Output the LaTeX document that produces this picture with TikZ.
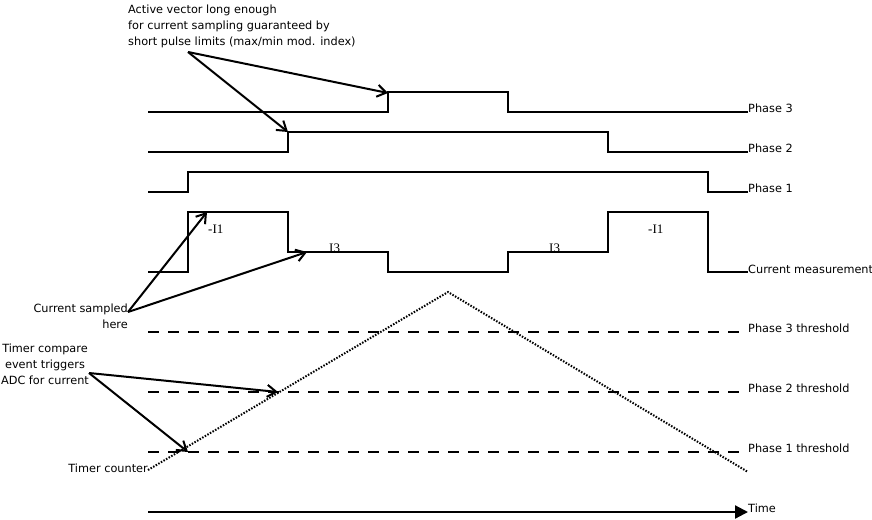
\documentclass[tikz,border=0pt]{standalone}
\usepackage{fontspec}
\setmainfont{DejaVu Sans}
\newfontfamily\curfont{Liberation Serif}
\usetikzlibrary{arrows.meta,positioning,calc}

\begin{document}
\begin{tikzpicture}[x=1pt,y=-1pt,
  lbl/.style={font=\fontsize{11.3}{16}\selectfont, inner sep=0pt},
  cur/.style={font=\curfont\fontsize{13}{14}\selectfont, inner sep=0pt, anchor=base west},
  wave/.style={line width=2.2pt},
  thr/.style={line width=2.2pt, dash pattern=on 11pt off 9pt},
  ptr/.style={line width=2pt, -{Straight Barb[length=9pt,width=12pt,line width=2pt]}}]
\useasboundingbox (0,0) rectangle (872,519);

% phase outputs
\draw[wave] (148,112) -- (388,112) -- (388,92) -- (508,92) -- (508,112) -- (748,112);
\draw[wave] (148,152) -- (288,152) -- (288,132) -- (608,132) -- (608,152) -- (748,152);
\draw[wave] (148,192) -- (188,192) -- (188,172) -- (708,172) -- (708,192) -- (748,192);
\draw[wave] (148,272) -- (188,272) -- (188,212) -- (288,212) -- (288,252) -- (388,252)
  -- (388,272) -- (508,272) -- (508,252) -- (608,252) -- (608,212) -- (708,212)
  -- (708,272) -- (748,272);

% thresholds, counter and time
\draw[thr] (148,332) -- (740,332);
\draw[thr] (148,392) -- (740,392);
\draw[thr] (148,452) -- (740,452);
\coordinate (cntStart) at (148,470);
\coordinate (cntPeak) at (448,292);
\coordinate (cntEnd) at (748,472);
\draw[line width=2pt, dash pattern=on 1.5pt off 1.5pt] (cntStart) -- (cntPeak) -- (cntEnd);
\coordinate (t0) at (148,512);
\coordinate (t1) at (748,512);
\draw[line width=2.2pt, -{Triangle[length=13pt,width=13pt]}] (t0) -- (t1);

% right hand labels
\node[lbl, anchor=base west] (p3lbl) at (748,112) {Phase 3};
\node[lbl, anchor=base west] (p2lbl) at (748,152) {Phase 2};
\node[lbl, anchor=base west] (p1lbl) at (748,192) {Phase 1};
\node[lbl, anchor=base west] (curlbl) at (748,273) {Current measurement};
\node[lbl, anchor=base west] (th3lbl) at (748,332) {Phase 3 threshold};
\node[lbl, anchor=base west] (th2lbl) at (748,392) {Phase 2 threshold};
\node[lbl, anchor=base west] (th1lbl) at (748,452) {Phase 1 threshold};
\node[lbl, anchor=base west] (timelbl) at (748,512) {Time};

% current values
\node[cur] (i1a) at (208,233) {-I1};
\node[cur] (i3a) at (329,252) {I3};
\node[cur] (i3b) at (549,252) {I3};
\node[cur] (i1b) at (648,233) {-I1};

% notes
\node[lbl, anchor=north west, align=left] (activetxt) at (128,4.5)
  {Active vector long enough\\for current sampling guaranteed by\\short pulse limits (max/min mod. index)};
\node[lbl, anchor=north east, align=right] (sampledtxt) at (128,303.5) {Current sampled\\here};
\node[lbl, anchor=north, align=center] (comparetxt) at (45,343.5) {Timer compare\\event triggers\\ADC for current};
\node[lbl, anchor=base east] (countertxt) at (148,472) {Timer counter};

\coordinate (activeFrom) at (188,52);
\coordinate (p3rise) at (388,93);
\coordinate (p2rise) at (288,132);
\coordinate (sampledFrom) at (128,312);
\coordinate (i1pt) at (207,212);
\coordinate (i3pt) at (307,252);
\coordinate (compareFrom) at (89,373);
\coordinate (th2pt) at (278,392);
\coordinate (th1pt) at (188,452);
\draw[ptr] (activeFrom) -- (p3rise);
\draw[ptr] (activeFrom) -- (p2rise);
\draw[ptr] (sampledFrom) -- (i1pt);
\draw[ptr] (sampledFrom) -- (i3pt);
\draw[ptr] (compareFrom) -- (th2pt);
\draw[ptr] (compareFrom) -- (th1pt);
\end{tikzpicture}
\end{document}
